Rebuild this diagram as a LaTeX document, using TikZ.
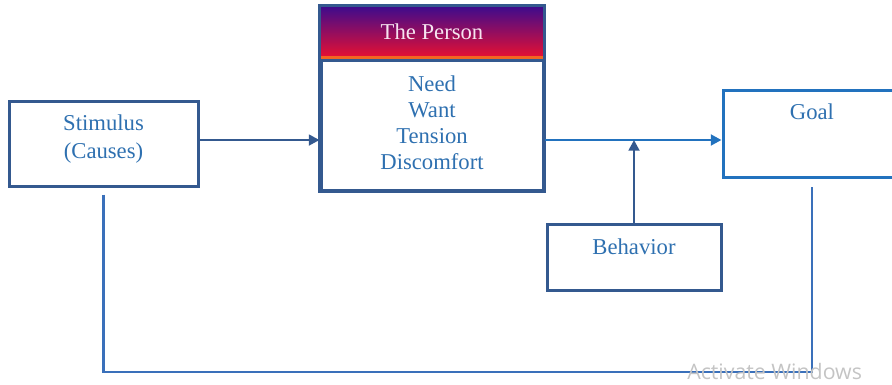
\documentclass[tikz,border=0pt]{standalone}
\usepackage{fontspec}
\setmainfont{Liberation Serif}
\newfontfamily\wmfont{Open Sans}
\usetikzlibrary{arrows.meta,calc}
\definecolor{darkb}{HTML}{34598F}
\definecolor{brightb}{HTML}{2272BE}
\definecolor{txtb}{HTML}{2E70B0}
\definecolor{fbb}{HTML}{3A70BA}
\definecolor{hdtop}{HTML}{3B0B8E}
\definecolor{hdmid}{HTML}{9A0A68}
\definecolor{hdbot}{HTML}{F2102C}
\definecolor{hdline}{HTML}{F26522}
\definecolor{wmgray}{HTML}{C4C4C4}
\begin{document}
\begin{tikzpicture}[x=0.75pt,y=-0.75pt,
  boxd/.style={draw=darkb, line width=2.25pt, inner sep=0pt},
  boxb/.style={draw=brightb, line width=2.25pt, inner sep=0pt},
  lbl/.style={text=txtb, font=\fontsize{17}{19.5}\selectfont, align=center, inner sep=0pt},
  arrd/.style={draw=darkb, line width=2.1pt, -{Triangle[length=8pt,width=8pt]}},
  arrb/.style={draw=brightb, line width=2.1pt, -{Triangle[length=8pt,width=8pt]}},
  fbline/.style={draw=fbb, line width=2.2pt}]
\useasboundingbox (0,0) rectangle (892,385);
% boxes
\node[boxd, minimum width=141.75pt, minimum height=63.75pt] (stim) at (103.5,143.5) {};
\node[boxd, minimum width=166.5pt, minimum height=137.25pt] (person) at (432,98.5) {};
\node[boxb, minimum width=133.5pt, minimum height=64.5pt] (goal) at (812,134) {};
\node[boxd, minimum width=130.5pt, minimum height=49.5pt] (behav) at (634,257) {};
% header of the person box
\fill[top color=hdtop, middle color=hdmid, bottom color=hdbot]
  (person.north west) rectangle ($(person.north east)+(0,55)$);
\fill[hdline] ($(person.north west)+(0,51)$) rectangle ($(person.north east)+(0,55)$);
\draw[darkb, line width=2.25pt] (person.north west) rectangle (person.south east);
\draw[darkb, line width=2.25pt] ($(person.north west)+(0,55)$) -- ($(person.north east)+(0,55)$);
% texts
\node[lbl, text={rgb,255:red,246;green,228;blue,240}] (ptitle) at (432,32) {The Person};
\node[lbl] (ptext) at (432,123) {Need\\Want\\Tension\\Discomfort};
\node[lbl, font=\fontsize{17}{21.5}\selectfont] (stext) at (103.5,139) {Stimulus\\(Causes)};
\node[lbl] (gtext) at (812,112) {Goal};
\node[lbl] (btext) at (634,247) {Behavior};
% connectors
\draw[arrd] ([yshift=2.6pt]stim.east) -- ([yshift=2.6pt]stim.east -| person.west);
\coordinate (a1) at ($(goal.west)+(0,6)$);
\draw[arrb] (a1 -| person.east) -- (a1);
\draw[arrd] (behav.north) -- (behav.north |- a1);
\coordinate (s0) at ($(stim.south)+(0,7)$);
\coordinate (g0) at ($(goal.south)+(0,8)$);
\coordinate (fb) at (0,372);
\draw[fbline] (s0) -- (s0 |- fb) -- (g0 |- fb) -- (g0);
% watermark
\node[anchor=base west, inner sep=0pt, text=wmgray, font=\wmfont\fontsize{16}{18}\selectfont] (wm) at (687,379) {Activate Windows};
\end{tikzpicture}
\end{document}
